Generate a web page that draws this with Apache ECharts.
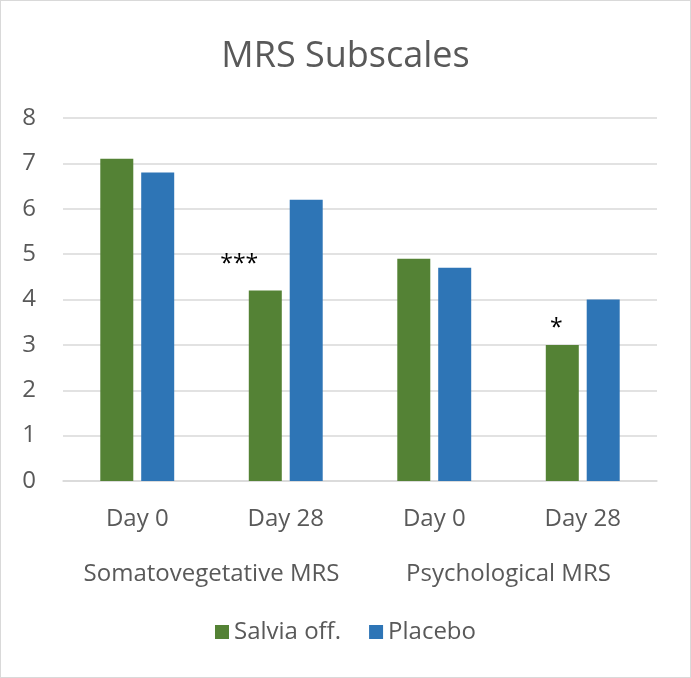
<!DOCTYPE html>
<html>
<head>
<meta charset="utf-8">
<script src="https://cdn.jsdelivr.net/npm/echarts@6/dist/echarts.min.js"></script>
<style>
  html, body { margin: 0; padding: 0; background: #fff; }
  #chart { width: 689px; height: 676px; border: 1px solid #d9d9d9; }
</style>
</head>
<body>
<div id="chart"></div>
<script>
var days = ['Day 0', 'Day 28', 'Day 0', 'Day 28'];
var groups = ['Somatovegetative MRS', 'Psychological MRS'];
var salvia = [7.1, 4.2, 4.9, 3.0];
var placebo = [6.8, 6.2, 4.7, 4.0];
var stars = ['', '***', '', '*'];

var font = '"Open Sans", sans-serif';
var myChart = echarts.init(document.getElementById('chart'));

var salviaData = salvia.map(function (v, i) {
  return {
    value: v,
    label: {
      show: stars[i] !== '',
      formatter: stars[i],
      position: 'top',
      offset: stars[i] === '***' ? [-26, -9] : [-6, 0],
      color: '#000',
      fontSize: 23,
      fontFamily: font
    }
  };
});

var option = {
  animation: false,
  title: {
    text: 'MRS Subscales',
    left: 'center',
    top: 33,
    textStyle: { color: '#595959', fontSize: 36, fontWeight: 'normal', fontFamily: font }
  },
  legend: {
    data: ['Salvia off.', 'Placebo'],
    bottom: 28,
    left: 'center',
    itemWidth: 14,
    itemHeight: 14,
    itemGap: 28,
    icon: 'rect',
    textStyle: { color: '#595959', fontSize: 24, fontFamily: font }
  },
  grid: { left: 62, right: 33, top: 117, bottom: 196 },
  xAxis: [
    {
      type: 'category',
      data: days,
      axisTick: { show: false },
      axisLine: { lineStyle: { color: '#d9d9d9', width: 1.5 } },
      axisLabel: { color: '#595959', fontSize: 24, fontFamily: font, margin: 26, interval: 0 }
    },
    {
      type: 'category',
      data: groups,
      position: 'bottom',
      offset: 55,
      axisTick: { show: false },
      axisLine: { show: false },
      axisLabel: { color: '#595959', fontSize: 24, fontFamily: font, margin: 26, interval: 0 }
    }
  ],
  yAxis: {
    type: 'value',
    min: 0,
    max: 8,
    interval: 1,
    axisLine: { show: false },
    axisTick: { show: false },
    splitLine: { lineStyle: { color: '#d9d9d9', width: 1.5 } },
    axisLabel: { color: '#595959', fontSize: 24, fontFamily: font, margin: 27 }
  },
  series: [
    {
      name: 'Salvia off.',
      type: 'bar',
      xAxisIndex: 0,
      barWidth: 33,
      barGap: '24%',
      itemStyle: { color: '#548235' },
      data: salviaData
    },
    {
      name: 'Placebo',
      type: 'bar',
      xAxisIndex: 0,
      barWidth: 33,
      barGap: '24%',
      itemStyle: { color: '#2e75b6' },
      data: placebo
    }
  ]
};
myChart.setOption(option);
</script>
</body>
</html>
